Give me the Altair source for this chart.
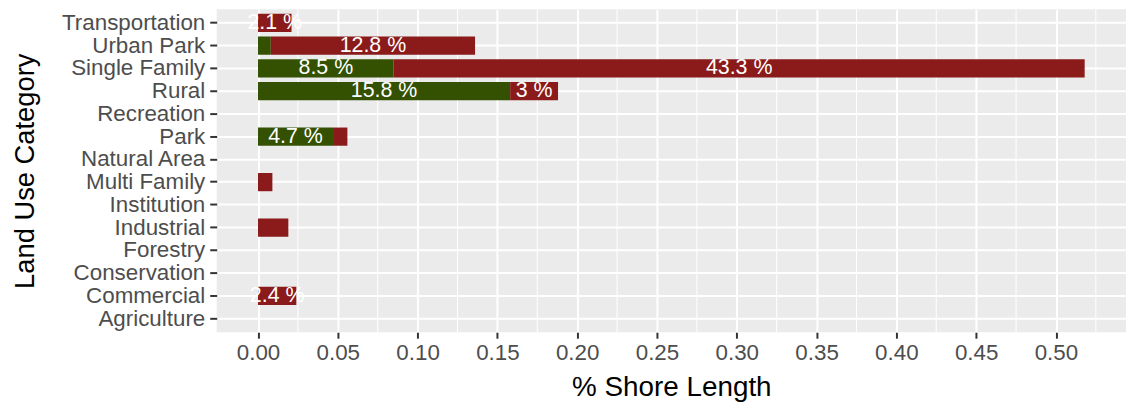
import altair as alt
import pandas as pd

# ---- data ----
categories = ["Transportation", "Urban Park", "Single Family", "Rural", "Recreation",
              "Park", "Natural Area", "Multi Family", "Institution", "Industrial",
              "Forestry", "Conservation", "Commercial", "Agriculture"]
green_vals = [0.000, 0.008, 0.085, 0.158, 0.000, 0.047, 0.000, 0.000, 0.000, 0.000,
              0.000, 0.000, 0.000, 0.000]
red_vals = [0.021, 0.128, 0.433, 0.030, 0.000, 0.009, 0.000, 0.009, 0.000, 0.019,
            0.000, 0.000, 0.024, 0.000]
series_names = ["Natural", "Modified"]
series_colors = ["#335100", "#8B1A1A"]
x_ticks = [0.00, 0.05, 0.10, 0.15, 0.20, 0.25, 0.30, 0.35, 0.40, 0.45, 0.50]
minor_grid = [0.025, 0.075, 0.125, 0.175, 0.225, 0.275, 0.325, 0.375, 0.425, 0.475, 0.525]

rows = []
for i, c in enumerate(categories):
    rows.append({"category": c, "series": series_names[0], "order": 0, "value": green_vals[i]})
    rows.append({"category": c, "series": series_names[1], "order": 1, "value": red_vals[i]})
df = pd.DataFrame(rows)

FONT = "Liberation Sans"
x_scale = alt.Scale(domain=[-0.0259, 0.5439], nice=False, zero=False)
y_scale = alt.Scale(domain=categories, paddingInner=0.2, paddingOuter=0.2)

x_axis = alt.Axis(title="% Shore Length", values=x_ticks, format=".2f", grid=True,
                  gridColor="white", gridWidth=2, domain=False, tickColor="#333333",
                  tickWidth=2, tickSize=6, labelFont=FONT, labelFontSize=22.5,
                  labelColor="#4D4D4D", labelPadding=3, labelFlush=False,
                  titleFont=FONT, titleFontSize=28, titleColor="black",
                  titleFontWeight="normal", titlePadding=10)
y_axis = alt.Axis(title="Land Use Category", grid=True, gridColor="white", gridWidth=2,
                  bandPosition=0.5, domain=False, tickColor="#333333", tickWidth=2,
                  tickSize=7, labelFont=FONT, labelFontSize=22.5, labelColor="#4D4D4D",
                  labelPadding=5, labelOverlap=False, labelBound=False,
                  titleFont=FONT, titleFontSize=27.5, titleColor="black",
                  titleFontWeight="normal", titlePadding=22)

minor = alt.Chart(pd.DataFrame({"v": minor_grid})).mark_rule(
    color="white", strokeWidth=1).encode(
    x=alt.X("v:Q", scale=x_scale, axis=x_axis))

base = alt.Chart(df).transform_filter("datum.value > 0").transform_stack(
    stack="value", as_=["x0", "x1"], groupby=["category"],
    sort=[alt.SortField("order", order="ascending")])

bars = base.mark_bar().encode(
    x=alt.X("x0:Q", scale=x_scale, axis=x_axis),
    x2="x1:Q",
    y=alt.Y("category:N", scale=y_scale, axis=y_axis, sort=categories),
    color=alt.Color("series:N", scale=alt.Scale(domain=series_names, range=series_colors),
                    legend=None),
)

labels = base.transform_filter("datum.value >= 0.02").transform_calculate(
    mid="(datum.x0 + datum.x1) / 2",
    label="round(datum.value * 1000) / 10 + ' %'",
).mark_text(color="white", font=FONT, fontSize=21.5, baseline="middle", align="center").encode(
    x=alt.X("mid:Q", scale=x_scale, axis=x_axis),
    y=alt.Y("category:N", scale=y_scale, axis=y_axis, sort=categories),
    text="label:N",
)

chart = alt.layer(minor, bars, labels).properties(
    width=915, height=325,
    padding={"left": 210, "top": 0, "right": 0, "bottom": 80},
    autosize="none",
).configure_view(fill="#EBEBEB", strokeWidth=0)

chart.save("out.html", embed_options={"renderer": "svg", "actions": False})
